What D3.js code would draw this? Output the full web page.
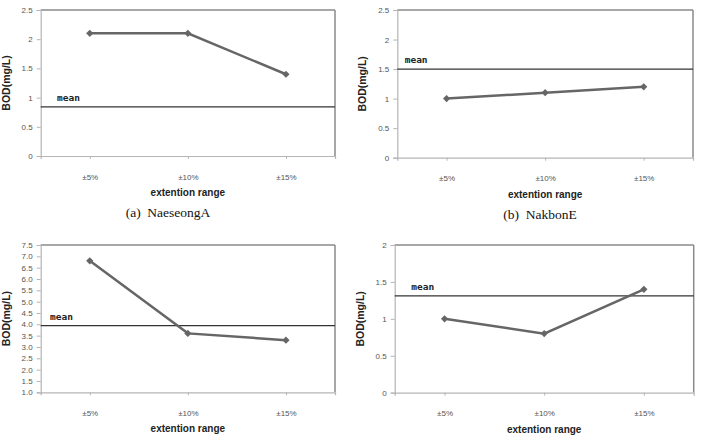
<!DOCTYPE html>
<html>
<head>
<meta charset="utf-8">
<script src="https://cdn.jsdelivr.net/npm/d3@7"></script>
<style>
  body { margin: 0; background: white; }
  svg { display: block; }
</style>
</head>
<body>
<script>
// categories shared by all four charts
const categories = ["±5%", "±10%", "±15%"];

// BOD values per station (mg/L)
const naeseongA = [2.1, 2.1, 1.4];
const nakbonE = [1.0, 1.1, 1.2];
const stationC = [6.8, 3.6, 3.3];
const stationD = [1.0, 0.8, 1.4];

// mean lines
const meanValues = [0.84, 1.5, 3.94, 1.31];

// y ticks
const ticksA = [0, 0.5, 1, 1.5, 2, 2.5];
const ticksB = [0, 0.5, 1, 1.5, 2, 2.5];
const ticksC = [1.0, 1.5, 2.0, 2.5, 3.0, 3.5, 4.0, 4.5, 5.0, 5.5, 6.0, 6.5, 7.0, 7.5];
const ticksD = [0, 0.5, 1, 1.5, 2];

const captions = ["(a)  NaeseongA", "(b)  NakbonE", null, null];

const svg = d3.select("body").append("svg")
    .attr("width", 703)
    .attr("height", 438);

// panel layout: plot area box + where the mean label sits
const panels = [
    { values: naeseongA, ticks: ticksA, fmt: d3.format(""), left: 40.7, right: 335, top: 10, bottom: 156,
      mean: meanValues[0], meanX: 57, caption: captions[0], capX: 168 },
    { values: nakbonE, ticks: ticksB, fmt: d3.format(""), left: 397.3, right: 693, top: 10, bottom: 157.7,
      mean: meanValues[1], meanX: 404.7, caption: captions[1], capX: 540 },
    { values: stationC, ticks: ticksC, fmt: d3.format(".1f"), left: 40.7, right: 335, top: 245, bottom: 392.3,
      mean: meanValues[2], meanX: 50, caption: captions[2] },
    { values: stationD, ticks: ticksD, fmt: d3.format(""), left: 394.7, right: 693.7, top: 245, bottom: 392.7,
      mean: meanValues[3], meanX: 411.3, caption: captions[3] }
];

panels.forEach(function(p) {
    const g = svg.append("g");

    const x = d3.scalePoint()
        .domain(categories)
        .range([p.left, p.right])
        .padding(0.5);

    const y = d3.scaleLinear()
        .domain(d3.extent(p.ticks))
        .range([p.bottom, p.top]);

    // frame: top and right darker
    g.append("line")
        .attr("x1", p.left).attr("x2", p.right)
        .attr("y1", p.top).attr("y2", p.top)
        .attr("stroke", "#8a8a8a").attr("stroke-width", 1.5);
    g.append("line")
        .attr("x1", p.right).attr("x2", p.right)
        .attr("y1", p.top).attr("y2", p.bottom)
        .attr("stroke", "#8a8a8a").attr("stroke-width", 1.5);

    // y axis
    const yAxis = g.append("g")
        .attr("transform", "translate(" + p.left + ",0)")
        .call(d3.axisLeft(y).tickValues(p.ticks).tickFormat(p.fmt).tickSize(4).tickPadding(4));
    // x axis
    const xAxis = g.append("g")
        .attr("transform", "translate(0," + p.bottom + ")")
        .call(d3.axisBottom(x).tickSize(3).tickPadding(15));

    [yAxis, xAxis].forEach(function(ax) {
        ax.select(".domain").attr("stroke", "#b5b5b5").attr("stroke-width", 1.2);
        ax.selectAll(".tick line").attr("stroke", "#b5b5b5");
        ax.selectAll(".tick text")
            .attr("fill", "#555")
            .style("font-family", "Liberation Sans, Arial, sans-serif")
            .style("font-size", "8px");
    });

    // mean line
    g.append("line")
        .attr("x1", p.left).attr("x2", p.right)
        .attr("y1", y(p.mean)).attr("y2", y(p.mean))
        .attr("stroke", "#333").attr("stroke-width", 1.2);
    g.append("text")
        .attr("x", p.meanX)
        .attr("y", y(p.mean) - 6)
        .attr("fill", "#222")
        .style("font-family", "DejaVu Sans Mono, monospace")
        .style("font-size", "9.5px")
        .style("font-weight", "bold")
        .text("mean");

    // data line
    const line = d3.line()
        .x(function(d, i) { return x(categories[i]); })
        .y(function(d) { return y(d); });
    g.append("path")
        .datum(p.values)
        .attr("d", line)
        .attr("fill", "none")
        .attr("stroke", "#666")
        .attr("stroke-width", 2.5);

    // diamond markers (rotated squares)
    g.selectAll(".pt")
        .data(p.values)
        .enter().append("path")
        .attr("class", "pt")
        .attr("transform", function(d, i) { return "translate(" + x(categories[i]) + "," + y(d) + ") rotate(45)"; })
        .attr("d", d3.symbol().type(d3.symbolSquare).size(26))
        .attr("fill", "#666");

    // axis titles
    g.append("text")
        .attr("transform", "translate(" + (p.left - 31) + "," + ((p.top + p.bottom) / 2) + ") rotate(-90)")
        .attr("text-anchor", "middle")
        .attr("fill", "#222")
        .style("font-family", "Liberation Sans, Arial, sans-serif")
        .style("font-size", "10.5px")
        .style("font-weight", "bold")
        .text("BOD(mg/L)");

    g.append("text")
        .attr("x", (p.left + p.right) / 2)
        .attr("y", p.bottom + 40)
        .attr("text-anchor", "middle")
        .attr("fill", "#222")
        .style("font-family", "Liberation Sans, Arial, sans-serif")
        .style("font-size", "10px")
        .style("font-weight", "bold")
        .text("extention range");

    if (p.caption) {
        g.append("text")
            .attr("x", p.capX)
            .attr("y", p.bottom + 61)
            .attr("text-anchor", "middle")
            .attr("fill", "#111")
            .style("font-family", "Liberation Serif, Times New Roman, serif")
            .style("font-size", "13.5px")
            .style("white-space", "pre")
            .attr("xml:space", "preserve")
            .text(p.caption);
    }
});
</script>
</body>
</html>
